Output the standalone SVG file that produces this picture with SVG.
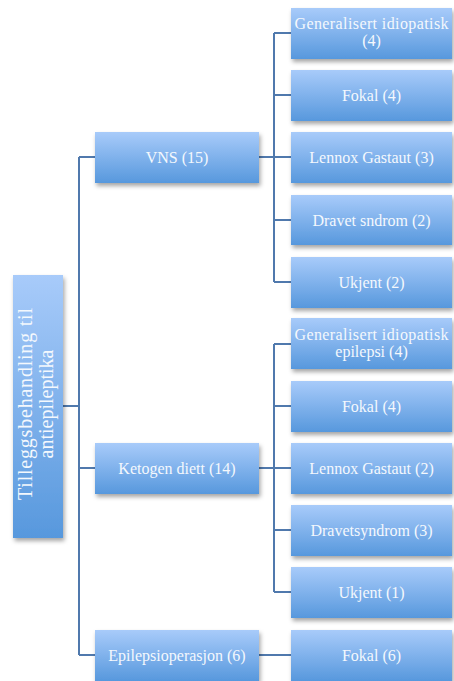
<svg xmlns="http://www.w3.org/2000/svg" width="454" height="681" viewBox="0 0 454 681">
<defs>
<linearGradient id="g" x1="0" y1="0" x2="0" y2="1">
<stop offset="0" stop-color="#a8cbfa"/>
<stop offset="1" stop-color="#5798dd"/>
</linearGradient>
<filter id="sh" x="-20%" y="-20%" width="140%" height="160%">
<feDropShadow dx="1.5" dy="3" stdDeviation="2" flood-color="#000" flood-opacity="0.35"/>
</filter>
<style>
.box{fill:url(#g);filter:url(#sh)}
.t{font-family:"Liberation Serif","Times New Roman",serif;font-size:16px;fill:#f4f8fd;text-anchor:middle}
.r{font-size:20px}
.c{fill:none;stroke:#5079ad;stroke-width:2}
</style>
</defs>
<rect width="454" height="681" fill="#fff"/>
<g id="connectors">
<path class="c" d="M63 406H79M79 157V655M79 157H95M79 468H95M79 655H95"/>
<path class="c" d="M259 157H274M274 33V282M274 33H291M274 95H291M274 157H291M274 220H291M274 282H291"/>
<path class="c" d="M259 468H274M274 344V592M274 344H291M274 406H291M274 468H291M274 530H291M274 592H291"/>
<path class="c" d="M259 655H291"/>
</g>
<g id="root"><rect class="box" x="13" y="275" width="50" height="263"/>
<text class="t r" transform="translate(38 404) rotate(-90)"><tspan x="0" y="-6" textLength="192">Tilleggsbehandling til</tspan><tspan x="0" y="15">antiepileptika</tspan></text></g>
<g id="vns"><rect class="box" x="95" y="132" width="164" height="51"/><text class="t" x="177" y="163">VNS (15)</text></g>
<g id="keto"><rect class="box" x="95" y="443" width="164" height="51"/><text class="t" x="177" y="474">Ketogen diett (14)</text></g>
<g id="op"><rect class="box" x="95" y="630" width="164" height="51"/><text class="t" x="177" y="661">Epilepsioperasjon (6)</text></g>
<g id="v1"><rect class="box" x="291" y="8" width="161" height="51"/><text class="t" x="371.5" y="29" textLength="154">Generalisert idiopatisk</text><text class="t" x="371.5" y="46">(4)</text></g>
<g id="v2"><rect class="box" x="291" y="70" width="161" height="51"/><text class="t" x="371.5" y="101">Fokal (4)</text></g>
<g id="v3"><rect class="box" x="291" y="132" width="161" height="51"/><text class="t" x="371.5" y="163">Lennox Gastaut (3)</text></g>
<g id="v4"><rect class="box" x="291" y="195" width="161" height="50"/><text class="t" x="371.5" y="226">Dravet sndrom (2)</text></g>
<g id="v5"><rect class="box" x="291" y="257" width="161" height="51"/><text class="t" x="371.5" y="288">Ukjent (2)</text></g>
<g id="k1"><rect class="box" x="291" y="318" width="161" height="51"/><text class="t" x="371.5" y="340" textLength="154">Generalisert idiopatisk</text><text class="t" x="371.5" y="357">epilepsi (4)</text></g>
<g id="k2"><rect class="box" x="291" y="381" width="161" height="51"/><text class="t" x="371.5" y="412">Fokal (4)</text></g>
<g id="k3"><rect class="box" x="291" y="443" width="161" height="51"/><text class="t" x="371.5" y="474">Lennox Gastaut (2)</text></g>
<g id="k4"><rect class="box" x="291" y="505" width="161" height="51"/><text class="t" x="371.5" y="536">Dravetsyndrom (3)</text></g>
<g id="k5"><rect class="box" x="291" y="567" width="161" height="51"/><text class="t" x="371.5" y="598">Ukjent (1)</text></g>
<g id="o1"><rect class="box" x="291" y="630" width="161" height="51"/><text class="t" x="371.5" y="661">Fokal (6)</text></g>
</svg>
